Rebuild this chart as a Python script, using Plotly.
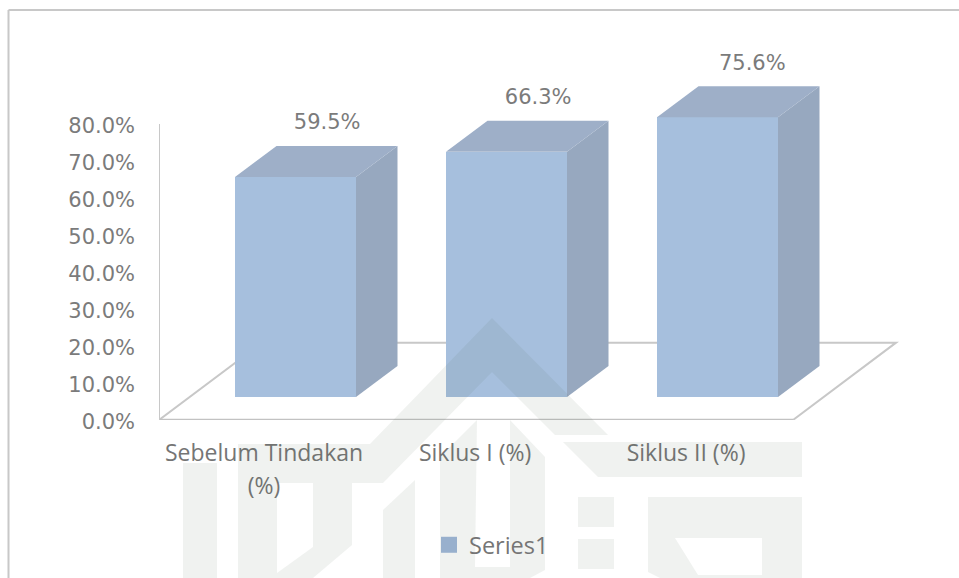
import plotly.graph_objects as go

categories = ["Sebelum Tindakan<br>(%)", "Siklus I (%)", "Siklus II (%)"]
values = [59.5, 66.3, 75.6]
series_name = "Series1"
y_ticks = [0, 10, 20, 30, 40, 50, 60, 70, 80]

W, H = 959, 578
L, R, T, B = 159, 0, 0, 158
PX_X = W - L - R
PX_Y = H - T - B

FRONT = "#a6bfdd"
TOP = "#9eafc8"
SIDE = "#97a8bf"
LEGEND = "#98b0cd"
LINE = "#c8c8c8"
AXIS = "#c2c2c2"
TEXT = "#7b7b7b"
LABEL = "#757575"

positions = list(range(len(values)))
x_min = -0.6469
x_front = 2.3578
x_max = 3.1445
y_axis_top = 80
y_max = 113.51
bar_width = 0.5735
depth_x = 0.1967
depth_y = 8.38
bar_base = 6.2
floor_dx = 103 / 211
floor_dy = 20.9
label_shift = -0.149


def span(s, size=23):
    return "<br>".join(f'<span style="font-size:{size}px">{p}</span>' for p in s.split("<br>"))


fig = go.Figure()
fig.add_trace(go.Bar(
    x=positions, y=values, base=bar_base, width=bar_width,
    marker=dict(color=FRONT, line=dict(width=0)), showlegend=False, hoverinfo="skip",
))
for p, v in zip(positions, values):
    xr = p + bar_width / 2
    xl = p - bar_width / 2
    top = bar_base + v
    fig.add_trace(go.Scatter(
        x=[xr, xr + depth_x, xr + depth_x, xr, xr],
        y=[bar_base, bar_base + depth_y, top + depth_y, top, bar_base],
        fill="toself", fillcolor=SIDE, mode="none", showlegend=False, hoverinfo="skip",
    ))
    fig.add_trace(go.Scatter(
        x=[xl, xl + depth_x, xr + depth_x, xr, xl],
        y=[top, top + depth_y, top + depth_y, top, top],
        fill="toself", fillcolor=TOP, mode="none", showlegend=False, hoverinfo="skip",
    ))

fig.add_trace(go.Scatter(
    x=[p + 0.15 for p in positions[:2]] + [positions[2] + 0.165],
    y=[v + bar_base + depth_y + 5.9 for v in values],
    mode="text", text=[f"{v:.1f}%" for v in values],
    textfont=dict(family="DejaVu Sans", size=21, color=TEXT),
    textposition="middle center", showlegend=False, hoverinfo="skip",
))

fig.add_trace(go.Scatter(
    x=[None], y=[None], mode="markers", name=series_name,
    marker=dict(symbol="square", size=16, color=LEGEND, line=dict(width=0)),
))


def px(x):
    return (x - L) / PX_X


def py(y):
    return (H - B - y) / PX_Y


def poly(pts):
    return "M" + " L".join(f"{px(x):.5f},{py(y):.5f}" for x, y in pts) + " Z"


watermark = [
    [poly([(183, 463), (217, 463), (217, 578), (183, 578)])],
    [poly([(238, 444), (370, 444), (492, 318), (608, 435), (555, 435), (492, 372),
           (383, 483), (352, 483), (352, 545), (313, 578), (238, 578)]),
     poly([(277, 483), (313, 483), (313, 547), (277, 573)])],
    [poly([(383, 510), (415, 480), (415, 578), (383, 578)])],
    [poly([(440, 457), (477, 420), (475, 567), (510, 567), (510, 420), (545, 457), (545, 570),
           (530, 578), (440, 578)])],
    [poly([(563, 442), (802, 442), (802, 477), (598, 477)])],
    [poly([(578, 497), (614, 497), (614, 527), (578, 527)])],
    [poly([(578, 539), (614, 539), (614, 569), (578, 569)])],
    [poly([(648, 497), (802, 497), (802, 578), (660, 578), (648, 572)]),
     poly([(675, 538), (762, 538), (762, 575), (698, 575)])],
]

shapes = [
    # floor of the 3D box, behind the bars
    dict(type="path", xref="x", yref="y", layer="below",
         path=(f"M{x_min},0 L{x_min + floor_dx},{floor_dy} L{x_front + floor_dx},{floor_dy} "
               f"L{x_front},0 Z"),
         line=dict(color=LINE, width=2), fillcolor="rgba(0,0,0,0)"),
    # category axis line along the front of the floor
    dict(type="line", xref="x", yref="y", x0=x_min, y0=0, x1=x_front, y1=0,
         line=dict(color=AXIS, width=2.5), layer="below"),
    # value axis line, stopping at the top tick
    dict(type="line", xref="x", yref="y", x0=x_min, y0=0, x1=x_min, y1=y_axis_top,
         line=dict(color=LINE, width=2), layer="below"),
    # chart frame
    dict(type="line", xref="paper", yref="paper", x0=px(8.5), y0=py(10), x1=px(8.5), y1=py(578),
         line=dict(color=LINE, width=2), layer="below"),
    dict(type="line", xref="paper", yref="paper", x0=px(8.5), y0=py(10), x1=px(959), y1=py(10),
         line=dict(color=LINE, width=2), layer="below"),
]
for parts in watermark:
    shapes.append(dict(type="path", xref="paper", yref="paper", layer="above",
                       path=" ".join(parts), fillrule="evenodd",
                       fillcolor="rgba(85,100,85,0.085)", line=dict(width=0)))

fig.update_layout(
    width=W, height=H, margin=dict(l=L, r=R, t=T, b=B, pad=0),
    paper_bgcolor="white", plot_bgcolor="rgba(0,0,0,0)",
    shapes=shapes, bargap=0,
    legend=dict(x=px(429), y=py(545), xanchor="left", yanchor="middle", orientation="h",
                font=dict(family="Open Sans", size=23.5, color=LABEL),
                bgcolor="rgba(0,0,0,0)", itemclick=False),
    xaxis=dict(
        range=[x_min, x_max], tickvals=[p + label_shift for p in positions],
        ticktext=[span(c) for c in categories], ticks="", showgrid=False, zeroline=False,
        showline=False, tickangle=0,
        tickfont=dict(family="Open Sans", size=25, color=LABEL), ticklabelstandoff=15,
    ),
    yaxis=dict(
        range=[0, y_max], tickvals=y_ticks, ticktext=[f"{t:.1f}%" for t in y_ticks],
        ticks="", showgrid=False, zeroline=False, showline=False,
        tickfont=dict(family="DejaVu Sans", size=21, color=TEXT), ticklabelstandoff=23,
        ticklabelshift=2,
    ),
)

fig.write_html("out.html", config=dict(displayModeBar=False),
               post_script="document.body.style.margin='0';document.body.style.overflow='hidden';")
